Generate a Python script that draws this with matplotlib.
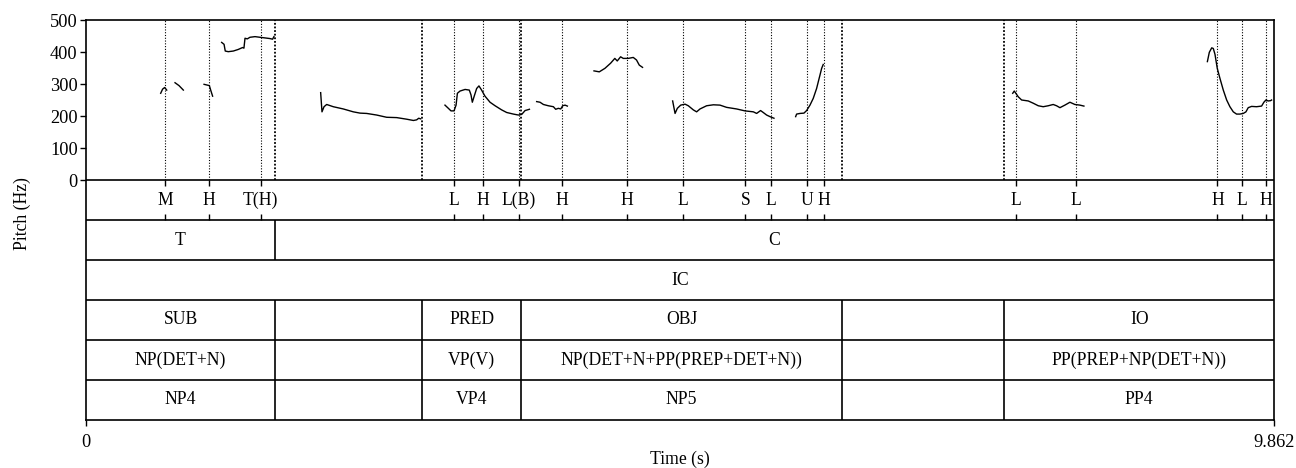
import matplotlib
matplotlib.use('Agg')
import matplotlib.pyplot as plt

plt.rcParams['font.family'] = ['Liberation Serif', 'DejaVu Serif']

T_END = 9.862

# ---- point tier (tones) ----
point_times = [0.658, 1.024, 1.450, 3.057, 3.296, 3.595, 3.954, 4.491, 4.953,
               5.473, 5.687, 5.985, 6.124, 7.718, 8.216, 9.392, 9.594, 9.798]
point_labels = ['M', 'H', 'T(H)', 'L', 'H', 'L(B)', 'H', 'H', 'L',
                'S', 'L', 'U', 'H', 'L', 'L', 'H', 'L', 'H']

# ---- interval tiers ----
topic_bounds = [1.569]
topic_labels = ['T', 'C']
clause_bounds = []
clause_labels = ['IC']
func_bounds = [1.569, 2.793, 3.609, 6.276, 7.624]
func_labels = ['SUB', '', 'PRED', 'OBJ', '', 'IO']
phrase_labels = ['NP(DET+N)', '', 'VP(V)', 'NP(DET+N+PP(PREP+DET+N))', '', 'PP(PREP+NP(DET+N))']
size_labels = ['NP4', '', 'VP4', 'NP5', '', 'PP4']

# ---- pitch contour segments (time s, Hz) ----
seg1_t = [0.620, 0.636, 0.653, 0.670]
seg1_hz = [271, 284, 289, 281]
seg2_t = [0.739, 0.772, 0.808]
seg2_hz = [304, 295, 281]
seg3_t = [0.980, 1.024, 1.035, 1.051]
seg3_hz = [299, 295, 281, 262]
seg4_t = [1.126, 1.146, 1.156, 1.181, 1.223, 1.264, 1.300, 1.311, 1.320, 1.339,
          1.361, 1.403, 1.444, 1.486, 1.527, 1.549, 1.560]
seg4_hz = [430, 424, 403, 401, 403, 408, 414, 412, 443, 441,
           446, 448, 446, 444, 442, 440, 448]
seg5_t = [1.948, 1.959, 1.976, 1.998, 2.053, 2.136, 2.219, 2.275, 2.330, 2.413,
          2.496, 2.579, 2.662, 2.718, 2.745, 2.762, 2.778]
seg5_hz = [273, 213, 229, 236, 229, 222, 213, 209, 208, 203,
           196, 195, 190, 186, 188, 193, 191]
seg6_t = [2.980, 3.008, 3.030, 3.055, 3.072, 3.083, 3.105, 3.147, 3.182, 3.196,
          3.207, 3.221, 3.243, 3.262, 3.284, 3.312, 3.354, 3.396, 3.451, 3.492,
          3.548, 3.590, 3.617, 3.645, 3.681]
seg6_hz = [234, 224, 216, 216, 234, 271, 278, 283, 281, 266,
           243, 260, 286, 294, 281, 262, 243, 232, 219, 211,
           206, 203, 205, 217, 221]
seg7_t = [3.741, 3.769, 3.797, 3.838, 3.880, 3.899, 3.921, 3.941, 3.957, 3.977, 3.996]
seg7_hz = [245, 243, 236, 232, 229, 221, 224, 222, 232, 234, 231]
seg8_t = [4.217, 4.261, 4.308, 4.355, 4.390, 4.410, 4.438, 4.460, 4.501, 4.543,
          4.570, 4.593, 4.620]
seg8_hz = [341, 338, 349, 365, 380, 372, 385, 380, 380, 383,
           375, 359, 352]
seg9_t = [4.870, 4.890, 4.909, 4.937, 4.973, 5.000, 5.042, 5.069, 5.097, 5.152,
          5.208, 5.263, 5.318, 5.401, 5.470, 5.540, 5.567, 5.600, 5.622, 5.650,
          5.678, 5.711]
seg9_hz = [247, 208, 224, 234, 237, 232, 219, 213, 222, 232,
           235, 234, 227, 222, 216, 213, 208, 217, 211, 203,
           198, 193]
seg10_t = [5.891, 5.899, 5.927, 5.960, 5.982, 6.010, 6.037, 6.065, 6.093, 6.107, 6.120]
seg10_hz = [198, 206, 208, 209, 217, 234, 255, 286, 328, 349, 361]
seg11_t = [7.693, 7.706, 7.739, 7.767, 7.822, 7.863, 7.905, 7.946, 7.988, 8.029,
           8.057, 8.085, 8.126, 8.168, 8.209, 8.251, 8.284]
seg11_hz = [271, 278, 260, 250, 247, 240, 232, 229, 232, 236,
            232, 226, 234, 243, 236, 234, 231]
seg12_t = [9.309, 9.325, 9.345, 9.358, 9.372, 9.391, 9.413, 9.441, 9.469, 9.496,
           9.524, 9.551, 9.579, 9.607, 9.629, 9.648, 9.676, 9.717, 9.759, 9.778,
           9.795, 9.814, 9.834, 9.842]
seg12_hz = [370, 399, 413, 411, 393, 349, 318, 281, 250, 229,
            213, 206, 206, 208, 213, 226, 230, 229, 231, 243,
            250, 247, 248, 250]

segments = [(seg1_t, seg1_hz), (seg2_t, seg2_hz), (seg3_t, seg3_hz), (seg4_t, seg4_hz),
            (seg5_t, seg5_hz), (seg6_t, seg6_hz), (seg7_t, seg7_hz), (seg8_t, seg8_hz),
            (seg9_t, seg9_hz), (seg10_t, seg10_hz), (seg11_t, seg11_hz), (seg12_t, seg12_hz)]

PITCH_MAX = 500
TIER_H = 125          # height of one tier in y units (40 px)
N_TIERS = 6
FS = 12.7
LW = 1.2

fig = plt.figure(figsize=(12.96, 4.68), dpi=100)
ax = fig.add_axes([86 / 1296, 48 / 468, 1188 / 1296, 400 / 468])
ax.set_xlim(0, T_END)
ax.set_ylim(-N_TIERS * TIER_H, PITCH_MAX)

for s in ax.spines.values():
    s.set_linewidth(LW)

ax.set_yticks(range(0, PITCH_MAX + 1, 100))
ax.set_xticks([0, T_END])
ax.set_xticklabels(['0', '9.862'])
ax.tick_params(axis='both', direction='out', length=4, width=1.0, labelsize=13.2, pad=2)
ax.tick_params(axis='x', pad=6)

# pitch contour
for t, hz in segments:
    ax.plot(t, hz, color='black', lw=1.0, solid_joinstyle='round')

# dotted lines in pitch area at all points & boundaries
ax.vlines(point_times, 0, PITCH_MAX, colors='black', linestyles=(0, (1, 1.5)), lw=0.8)
ax.vlines(sorted(set(func_bounds + topic_bounds)), 0, PITCH_MAX, colors='black',
          linestyles=(0, (1, 1)), lw=1.3)

# tier separators
for i in range(N_TIERS):
    ax.axhline(-i * TIER_H, color='black', lw=LW)

# point tier (tier 0)
top0, bot0 = 0, -TIER_H
tick_len = 20
ax.vlines(point_times, top0 - tick_len, top0, colors='black', lw=1.0)
ax.vlines(point_times, bot0, bot0 + tick_len, colors='black', lw=1.0)
for t, lab in zip(point_times, point_labels):
    ax.text(t, (top0 + bot0) / 2, lab, ha='center', va='center', fontsize=FS)


def draw_interval_tier(idx, bounds, labels):
    top = -idx * TIER_H
    bot = top - TIER_H
    if bounds:
        ax.vlines(bounds, bot, top, colors='black', lw=LW)
    edges = [0] + list(bounds) + [T_END]
    for a, b, lab in zip(edges[:-1], edges[1:], labels):
        if lab:
            ax.text((a + b) / 2, (top + bot) / 2, lab, ha='center', va='center', fontsize=FS)


draw_interval_tier(1, topic_bounds, topic_labels)
draw_interval_tier(2, clause_bounds, clause_labels)
draw_interval_tier(3, func_bounds, func_labels)
draw_interval_tier(4, func_bounds, phrase_labels)
draw_interval_tier(5, func_bounds, size_labels)

fig.text(22 / 1296, 1 - 214 / 468, 'Pitch (Hz)', rotation=90, ha='center', va='center', fontsize=FS)
fig.text(680 / 1296, 1 - 459 / 468, 'Time (s)', ha='center', va='center', fontsize=FS)

fig.savefig('out.png', dpi=100)
